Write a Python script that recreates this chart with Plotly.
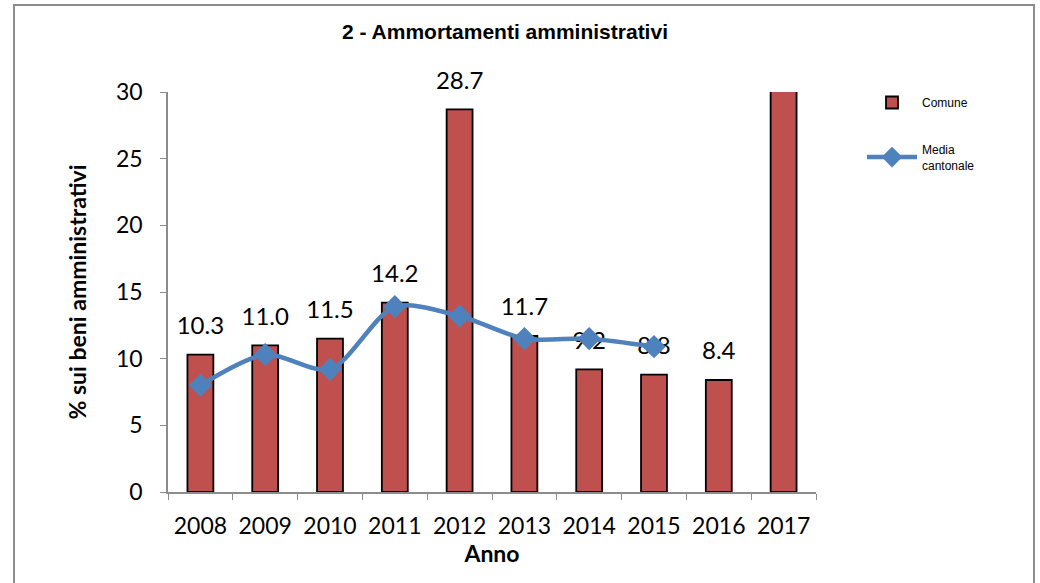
import plotly.graph_objects as go

anni = ["2008", "2009", "2010", "2011", "2012", "2013", "2014", "2015", "2016", "2017"]
comune = [10.3, 11.0, 11.5, 14.2, 28.7, 11.7, 9.2, 8.8, 8.4, 34.0]
anni_media = ["2008", "2009", "2010", "2011", "2012", "2013", "2014", "2015"]
media_cantonale = [8.0, 10.3, 9.2, 13.9, 13.2, 11.5, 11.5, 10.9]
y_max = 30

W, H = 1040, 583
L, R, T, B = 168, 816, 92, 492
pw, ph = R - L, B - T
FONT = "Lato, Open Sans, sans-serif"

fig = go.Figure()
fig.add_trace(go.Bar(
    x=anni, y=comune, name="Comune", legendgroup="a",
    marker=dict(color="#C0504D", line=dict(color="black", width=1.8)),
))
# data labels above bars (invisible markers push the text up a little)
fig.add_trace(go.Scatter(
    x=anni, y=comune, mode="markers+text",
    text=[f"{v:.1f}" if v <= y_max else "" for v in comune],
    textposition="top center", showlegend=False, hoverinfo="skip",
    marker=dict(size=22, opacity=0), cliponaxis=False,
    textfont=dict(family=FONT, size=24, color="black"),
))
fig.add_trace(go.Scatter(
    x=anni_media, y=media_cantonale, name="Media<br>cantonale", legendgroup="b",
    mode="lines+markers",
    line=dict(color="#4F81BD", width=4.5, shape="spline", smoothing=0.8),
    marker=dict(symbol="diamond", size=18, color="#4F81BD"),
))

fig.update_layout(
    width=W, height=H,
    margin=dict(l=L, r=W - R, t=T, b=H - B, pad=0),
    plot_bgcolor="white", paper_bgcolor="white",
    bargap=0.6,
    showlegend=True,
    title=dict(text="<b>2 - Ammortamenti amministrativi</b>", x=505 / W, xanchor="center",
               y=1 - 32 / H, yanchor="middle",
               font=dict(family="Liberation Sans, Arial, sans-serif", size=21, color="black")),
    legend=dict(x=(862 - L) / pw, y=1 + 4 / ph, xanchor="left", yanchor="top",
                font=dict(family="Liberation Sans, Arial, sans-serif", size=12, color="black"),
                tracegroupgap=28, itemwidth=50, bgcolor="rgba(0,0,0,0)"),
    xaxis=dict(
        type="category", range=[-0.5, len(anni) - 0.5],
        showline=True, linecolor="#8c8c8c", linewidth=1.5,
        ticks="outside", tickson="boundaries", ticklen=6, tickcolor="#8c8c8c",
        tickangle=0, ticklabelstandoff=13,
        tickfont=dict(family=FONT, size=23, color="black"),
        title=dict(text="<b>Anno</b>", standoff=0,
                   font=dict(family=FONT, size=23, color="black")),
    ),
    yaxis=dict(
        range=[0, y_max], dtick=5, showgrid=False, zeroline=False,
        showline=True, linecolor="#8c8c8c", linewidth=1.5,
        ticks="outside", ticklen=6, tickcolor="#8c8c8c", ticklabelstandoff=13,
        tickfont=dict(family=FONT, size=23, color="black"),
        title=dict(text="<b>% sui beni amministrativi</b>", standoff=23,
                   font=dict(family=FONT, size=23, color="black")),
    ),
    shapes=[dict(type="rect", xref="paper", yref="paper",
                 x0=(14 - L) / pw, x1=(1034 - L) / pw,
                 y0=(B - 600) / ph, y1=(B - 5) / ph,
                 line=dict(color="#8c8c8c", width=2), fillcolor="rgba(0,0,0,0)", layer="below")],
)

fig.write_html("out.html", config={"displayModeBar": False},
               post_script="document.body.style.margin='0';")
